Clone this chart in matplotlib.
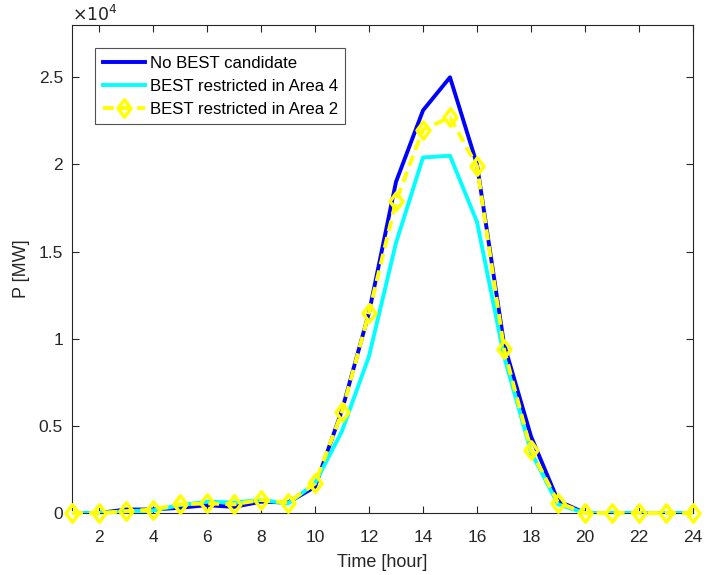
import matplotlib
matplotlib.use("Agg")
import matplotlib.pyplot as plt
from matplotlib.ticker import FuncFormatter
from matplotlib.path import Path

hours = list(range(1, 25))
no_best = [0, 0, 200, 200, 300, 450, 350, 650, 600, 1500, 5900, 11500, 19000, 23100, 25000, 20000,
           9700, 4400, 700, 0, 0, 0, 0, 0]
area4 = [0, 0, 100, 150, 450, 650, 600, 750, 550, 1700, 4700, 9000, 15500, 20400, 20500, 16700,
         9000, 3500, 500, 0, 0, 0, 0, 0]
area2 = [0, 0, 100, 200, 500, 550, 500, 750, 600, 1700, 5800, 11500, 17900, 22000, 22700, 19900,
         9400, 3600, 600, 0, 0, 0, 0, 0]

labels = ["No BEST candidate", "BEST restricted in Area 4", "BEST restricted in Area 2"]
xticks = [2, 4, 6, 8, 10, 12, 14, 16, 18, 20, 22, 24]
yticks = [0, 5000, 10000, 15000, 20000, 25000]

plt.rcParams['font.family'] = ['Liberation Sans', 'DejaVu Sans']

diamond = Path([(0, 1), (0.75, 0), (0, -1), (-0.75, 0), (0, 1)],
               [Path.MOVETO, Path.LINETO, Path.LINETO, Path.LINETO, Path.CLOSEPOLY])

fig = plt.figure(figsize=(7.2, 5.75), dpi=100)
ax = fig.add_axes([0.1, 0.1078, 0.8625, 0.8487])

ax.plot(hours, no_best, color='#0000FF', lw=2.8, label=labels[0], zorder=3)
ax.plot(hours, area4, color='#00FFFF', lw=2.8, label=labels[1], zorder=4)
ax.plot(hours, area2, color='#FFFF00', lw=2.8, ls=(0, (2.8, 1.6)), marker=diamond, markersize=12.5,
        markerfacecolor='none', markeredgewidth=2.5, label=labels[2], zorder=5, clip_on=False)

ax.set_xlim(1, 24)
ax.set_ylim(0, 28000)
ax.set_xticks(xticks)
ax.set_yticks(yticks)
ax.yaxis.set_major_formatter(FuncFormatter(lambda v, p: f"{v/1e4:g}"))
ax.tick_params(direction='in', top=True, right=True, labelsize=12.5, labelcolor='#262626',
               color='#262626', length=5, width=0.8)
ax.tick_params(axis='x', pad=12)
ax.tick_params(axis='y', pad=6.5)
for s in ax.spines.values():
    s.set_color('#262626')
    s.set_linewidth(0.8)
ax.text(0.0, 1.003, r"$\times10^{4}$", transform=ax.transAxes, fontsize=12.5,
        color='#262626', ha='left', va='bottom')

ax.set_xlabel("Time [hour]", fontsize=13, color='#262626', labelpad=7)
ax.set_ylabel("P [MW]", fontsize=13, color='#262626', labelpad=6)

leg = ax.legend(loc='upper left', bbox_to_anchor=(0.037, 0.953), fontsize=12.1, frameon=True,
                fancybox=False, edgecolor='#262626', handlelength=2.5, borderpad=0.45,
                labelspacing=0.48, handletextpad=0.3, borderaxespad=0)
leg.get_frame().set_linewidth(0.8)

fig.savefig("out.png", dpi=100)
